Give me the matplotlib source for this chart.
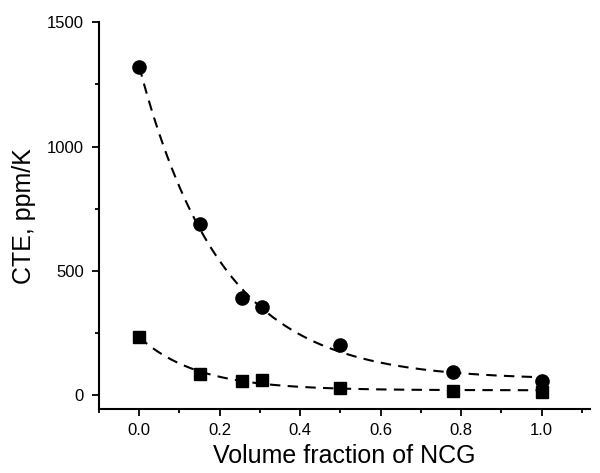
import matplotlib
matplotlib.use('Agg')
import matplotlib.pyplot as plt
import numpy as np
from matplotlib.ticker import MultipleLocator

plt.rcParams['font.family'] = ['Liberation Sans', 'DejaVu Sans']

# data
x_frac = [0.0, 0.15, 0.255, 0.305, 0.5, 0.78, 1.0]
cte_circle = [1321, 688, 392, 355, 204, 93, 59]
cte_square = [236, 87, 57, 62, 31, 19, 15]


def exp_fit(x, y):
    # y = y0 + A*exp(-x/t), grid search on t, linear least squares for y0, A
    x = np.asarray(x, float)
    y = np.asarray(y, float)
    best = None
    for t in np.linspace(0.02, 2.0, 2000):
        M = np.column_stack([np.ones_like(x), np.exp(-x / t)])
        coef, res, _, _ = np.linalg.lstsq(M, y, rcond=None)
        err = np.sum((M @ coef - y) ** 2)
        if best is None or err < best[0]:
            best = (err, t, coef)
    return best[1], best[2]


fig = plt.figure(figsize=(6, 4.73), dpi=100)
ax = fig.add_axes([0.165, 0.135, 0.818, 0.818])

xx = np.linspace(0, 1.0, 200)
for y, m in [(cte_circle, 'o'), (cte_square, 's')]:
    t, (y0, A) = exp_fit(x_frac, y)
    ax.plot(xx, y0 + A * np.exp(-xx / t), color='black', lw=1.5,
            dashes=(5, 3.5))
    ax.plot(x_frac, y, m, color='black', ms=9.5 if m == 'o' else 9, mec='black')

ax.set_xlim(-0.1, 1.12)
ax.set_ylim(-55, 1500)
ax.xaxis.set_major_locator(MultipleLocator(0.2))
ax.xaxis.set_minor_locator(MultipleLocator(0.1))
ax.yaxis.set_major_locator(MultipleLocator(500))
ax.yaxis.set_minor_locator(MultipleLocator(250))
ax.xaxis.set_major_formatter(plt.FormatStrFormatter('%.1f'))

for s in ['top', 'right']:
    ax.spines[s].set_visible(False)
for s in ['left', 'bottom']:
    ax.spines[s].set_linewidth(1.5)
ax.tick_params(which='major', direction='out', length=5, width=1.3, labelsize=12)
ax.tick_params(axis='y', which='major', pad=6)
ax.tick_params(axis='x', which='major', pad=5)
ax.tick_params(which='minor', direction='out', length=3, width=1.3)

ax.set_xlabel('Volume fraction of NCG', fontsize=18, labelpad=4)
ax.set_ylabel('CTE, ppm/K', fontsize=18, labelpad=8)

fig.savefig('out.png', dpi=100)
